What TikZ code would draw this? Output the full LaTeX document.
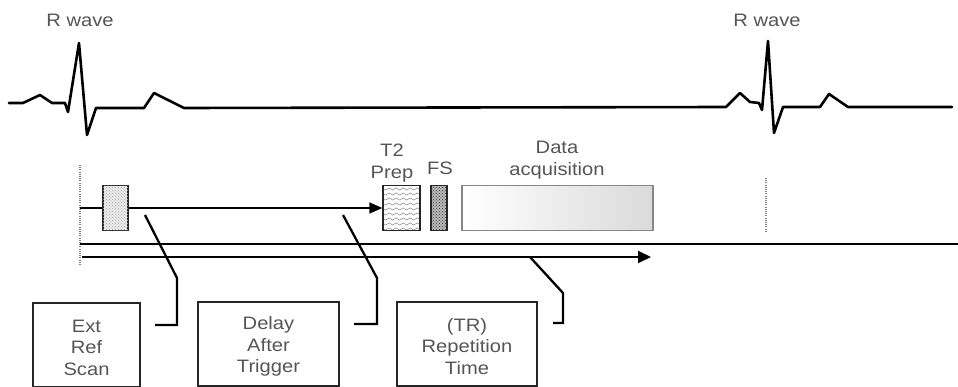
\documentclass[tikz,border=0pt]{standalone}
\usepackage{fontspec}
\newfontfamily\labfont{Liberation Sans}[FakeStretch=1.12]
\usetikzlibrary{arrows.meta,patterns,decorations.pathmorphing,calc}
\definecolor{txtgray}{RGB}{85,85,85}
\definecolor{boxgray}{RGB}{135,135,135}
\definecolor{acqgray}{RGB}{218,218,218}
\tikzset{
  lab/.style={font=\labfont\fontsize{18}{21.5}\selectfont, text=txtgray, align=center, inner sep=0pt},
  ecg/.style={line width=2.6pt, line join=round, line cap=round},
  refbox/.style={draw=black!85, line width=1.4pt, fill=gray!15, minimum width=25pt, minimum height=45pt, inner sep=0pt,
     postaction={pattern=crosshatch dots, pattern color=gray!70}},
  prepbox/.style={draw=black!85, line width=1.4pt, fill=white, minimum width=37pt, minimum height=45pt, inner sep=0pt},
  fsbox/.style={draw=black!85, line width=1.4pt, fill=gray!55, minimum width=16pt, minimum height=45pt, inner sep=0pt,
     postaction={pattern=crosshatch dots, pattern color=black!80}},
  acqbox/.style={draw=boxgray, line width=1.3pt, left color=white, right color=acqgray, minimum width=191pt, minimum height=45pt, inner sep=0pt},
  infobox/.style={draw=black!85, line width=1.6pt, minimum height=84pt, inner sep=0pt},
  leader/.style={line width=2.3pt, line join=miter},
  vdots/.style={gray, line width=1.2pt, dash pattern=on 1pt off 1.2pt},
}
\begin{document}
\begin{tikzpicture}[x=1pt,y=-1pt]
\useasboundingbox (0,0) rectangle (958,387);

% ECG trace
\draw[ecg] (9,103) -- (23,103) -- (40,95) -- (52,103) -- (65,103) -- (68,112) -- (79,43) -- (87,135) -- (96,108)
  -- (144,108) -- (154,93) -- (184,108) -- (726,107) -- (740,93) -- (750,102) -- (759,103) -- (762,110)
  -- (768,41) -- (774,133) -- (783,107) -- (820,107) -- (829,94) -- (848,107) -- (952,107);

\node[lab] (rw1) at (80,20.5) {R wave};
\node[lab] (rw2) at (767,20) {R wave};

% dotted trigger markers
\coordinate (d1t) at (80,165);
\coordinate (d1b) at (80,265);
\draw[vdots] (d1t) -- (d1b);
\coordinate (d2t) at (766,178);
\coordinate (d2b) at (766,232);
\draw[vdots] (d2t) -- (d2b);

% sequence blocks
\node[refbox] (ref) at (115.5,208) {};
\node[prepbox] (t2) at (401.5,208) {};
\begin{scope}
  \clip (383,185.5) rectangle (420,230.5);
  \foreach \yy in {189,194,...,230}
    \draw[gray!85, line width=0.6pt, decorate, decoration={snake, amplitude=1.1pt, segment length=7pt}] (380,\yy) -- (424,\yy);
\end{scope}
\draw[black!85, line width=1.4pt] (383,185.5) rectangle (420,230.5);
\node[fsbox] (fs) at (439,208) {};
\node[acqbox] (acq) at (557.5,208) {};

\node[lab] (t2lab) at (392,163) {T2\\Prep};
\node[lab] (fslab) at (440,168.5) {FS};
\node[lab] (acqlab) at (557,160) {Data\\acquisition};

% timing line with arrow
\coordinate (start) at (80,208);
\draw[line width=1.6pt] (start) -- (ref.west);
\draw[line width=1.6pt, -{Triangle[length=13pt,width=11pt]}] (ref.east) -- (t2.west);

% long lines
\coordinate (thA) at (80,244);
\coordinate (thB) at (958,244);
\draw[line width=2.6pt] (thA) -- (thB);
\coordinate (trA) at (82,257);
\coordinate (trB) at (651,257);
\draw[line width=2pt, -{Triangle[length=13pt,width=12pt]}] (trA) -- (trB);

% info boxes
\node[infobox, minimum width=107pt] (ext) at (86.5,345) {};
\node[infobox, minimum width=141pt] (delay) at (268.5,344) {};
\node[infobox, minimum width=140pt] (tr) at (467,344) {};
\node[lab] (extlab) at ($(ext.center)+(0,2.5)$) {Ext\\Ref\\Scan};
\node[lab] (delaylab) at ($(delay.center)+(0,2.5)$) {Delay\\After\\Trigger};
\node[lab] (trlab) at ($(tr.center)+(0,2.5)$) {(TR)\\Repetition\\Time};

% leaders
\coordinate (l1a) at (145,215);
\coordinate (l1b) at (177,278);
\coordinate (l1c) at (177,325);
\coordinate (l1e) at (155,325);
\draw[leader] (l1a) -- (l1b) -- (l1c) -- (l1e);
\coordinate (l2a) at (343,215);
\coordinate (l2b) at (377,278);
\coordinate (l2c) at (377,324);
\coordinate (l2e) at (354,324);
\draw[leader] (l2a) -- (l2b) -- (l2c) -- (l2e);
\coordinate (l3a) at (530,257);
\coordinate (l3b) at (563,293);
\coordinate (l3c) at (563,323);
\coordinate (l3e) at (553,323);
\draw[leader] (l3a) -- (l3b) -- (l3c) -- (l3e);
\end{tikzpicture}
\end{document}
